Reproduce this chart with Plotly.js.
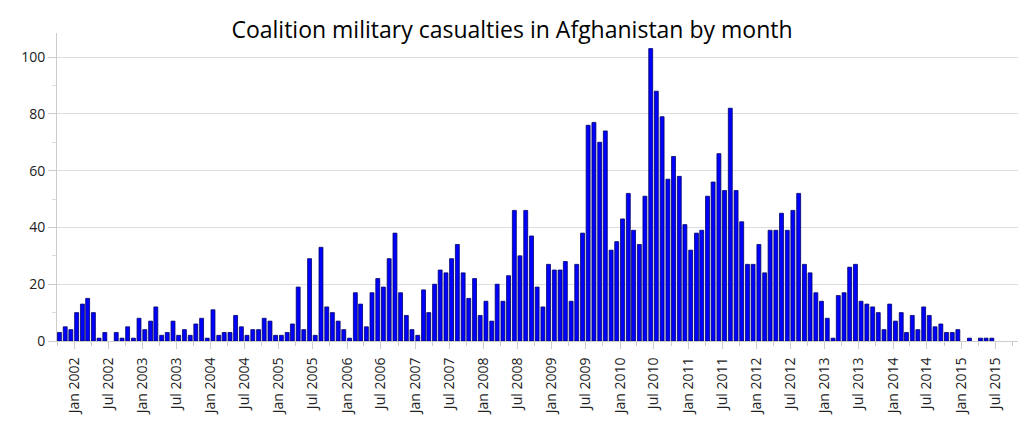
<!DOCTYPE html>
<html>
<head>
<meta charset="utf-8">
<script src="https://cdn.plot.ly/plotly-3.0.1.min.js"></script>
<style>
  html, body { margin: 0; padding: 0; background: #fff; }
  #chart { width: 1024px; height: 427px; }
</style>
</head>
<body>
<div id="chart"></div>
<script>
// monthly coalition deaths, Oct 2001 .. Oct 2015
var startYear = 2001, startMonth = 10;
var y2001 = [3, 5, 4];
var y2002 = [10, 13, 15, 10, 1, 3, 0, 3, 1, 5, 1, 8];
var y2003 = [4, 7, 12, 2, 3, 7, 2, 4, 2, 6, 8, 1];
var y2004 = [11, 2, 3, 3, 9, 5, 2, 4, 4, 8, 7, 2];
var y2005 = [2, 3, 6, 19, 4, 29, 2, 33, 12, 10, 7, 4];
var y2006 = [1, 17, 13, 5, 17, 22, 19, 29, 38, 17, 9, 4];
var y2007 = [2, 18, 10, 20, 25, 24, 29, 34, 24, 15, 22, 9];
var y2008 = [14, 7, 20, 14, 23, 46, 30, 46, 37, 19, 12, 27];
var y2009 = [25, 25, 28, 14, 27, 38, 76, 77, 70, 74, 32, 35];
var y2010 = [43, 52, 39, 34, 51, 103, 88, 79, 57, 65, 58, 41];
var y2011 = [32, 38, 39, 51, 56, 66, 53, 82, 53, 42, 27, 27];
var y2012 = [34, 24, 39, 39, 45, 39, 46, 52, 27, 24, 17, 14];
var y2013 = [8, 1, 16, 17, 26, 27, 14, 13, 12, 10, 4, 13];
var y2014 = [7, 10, 3, 9, 4, 12, 9, 5, 6, 3, 3, 4];
var y2015 = [0, 1, 0, 1, 1, 1, 0, 0, 0, 0];

var deaths = [].concat(y2001, y2002, y2003, y2004, y2005, y2006, y2007,
                       y2008, y2009, y2010, y2011, y2012, y2013, y2014, y2015);

// one date per month, placed mid-month
var months = [];
for (var i = 0; i < deaths.length; i++) {
    var m = startMonth - 1 + i;
    var yr = startYear + Math.floor(m / 12);
    var mo = (m % 12) + 1;
    months.push(yr + '-' + (mo < 10 ? '0' + mo : mo) + '-14');
}

// no outline on empty months, otherwise a flat line shows up
var outline = deaths.map(function (v) { return v > 0 ? 0.8 : 0; });

var font = "'Open Sans', 'Noto Sans', sans-serif";

Plotly.newPlot('chart', [{
    x: months,
    y: deaths,
    type: 'bar',
    marker: {
        color: '#0000ff',
        line: { color: '#000066', width: outline }
    },
    hoverinfo: 'x+y'
}], {
    width: 1024,
    height: 427,
    margin: { l: 57, r: 6, t: 33, b: 86 },
    paper_bgcolor: '#fff',
    plot_bgcolor: '#fff',
    bargap: 0.25,
    showlegend: false,
    font: { family: font, size: 14, color: '#222' },
    title: {
        text: 'Coalition military casualties in Afghanistan by month',
        font: { family: font, size: 23, color: '#000' },
        x: 0.5,
        xanchor: 'center',
        y: 1 - 30 / 427,
        yanchor: 'middle'
    },
    xaxis: {
        type: 'date',
        range: ['2001-10-01', '2015-11-01'],
        tick0: '2002-01-01',
        dtick: 'M6',
        tickformat: '%b %Y',
        tickangle: -90,
        ticks: 'outside',
        ticklen: 7,
        tickcolor: '#ccc',
        ticklabelstandoff: 3,
        minor: { dtick: 'M3', ticks: 'outside', ticklen: 4, tickcolor: '#ccc', showgrid: false },
        showgrid: false,
        showline: true,
        linecolor: '#ccc',
        linewidth: 1,
        tickfont: { family: font, size: 14, color: '#222' }
    },
    yaxis: {
        range: [0, 108.5],
        tick0: 0,
        dtick: 20,
        ticks: 'outside',
        ticklen: 8,
        tickcolor: '#ccc',
        minor: { dtick: 10, ticks: 'outside', ticklen: 4, tickcolor: '#ddd', showgrid: false },
        showgrid: true,
        gridcolor: '#ddd',
        zeroline: false,
        showline: true,
        linecolor: '#ccc',
        linewidth: 1,
        tickfont: { family: font, size: 14, color: '#222' }
    }
}, { displayModeBar: false, staticPlot: true });
</script>
</body>
</html>
